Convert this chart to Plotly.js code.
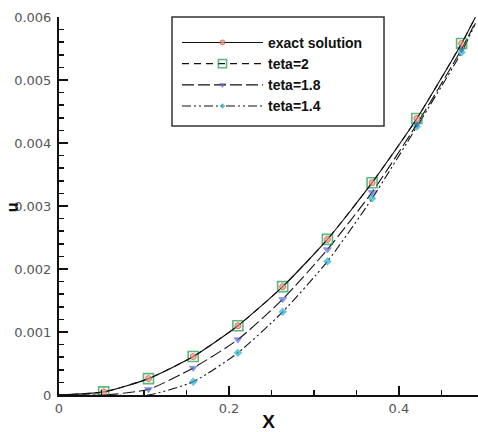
<!DOCTYPE html>
<html>
<head>
<meta charset="utf-8">
<script src="https://cdn.plot.ly/plotly-3.0.1.min.js"></script>
<style>html,body{margin:0;padding:0;background:#fff;}#chart{width:478px;height:432px;}</style>
</head>
<body>
<div id="chart"></div>
<script>
// x positions of the computed nodes (markers at interior nodes)
var xs = [0, 0.0526, 0.1053, 0.1579, 0.2105, 0.2632, 0.3158, 0.3684, 0.4211, 0.4737, 0.49];
var exactU  = [0, 0.00005, 0.00026, 0.00061, 0.00110, 0.00172, 0.00247, 0.00337, 0.00439, 0.00558, 0.00600];
var teta2U  = [0, 0.00005, 0.00026, 0.00061, 0.00110, 0.00172, 0.00247, 0.00337, 0.00439, 0.00558, 0.00600];
var teta18U = [0, 0, 0.00009, 0.00043, 0.00088, 0.00152, 0.00231, 0.00322, 0.00430, 0.00549, 0.00592];
var teta14U = [0, 0, 0, 0.00021, 0.00067, 0.00132, 0.00212, 0.00312, 0.00426, 0.00544, 0.00590];
var seriesNames = ['exact solution', 'teta=2', 'teta=1.8', 'teta=1.4'];
var yTickVals = [0, 0.001, 0.002, 0.003, 0.004, 0.005, 0.006];
var xTickVals = [0, 0.2, 0.4];

function sizes(vals, s) {
  return vals.map(function (v, i) { return (i === 0 || i === vals.length - 1 || v === 0) ? 0 : s; });
}

var traces = [
  {x: xs, y: teta14U, name: seriesNames[3], mode: 'lines+markers',
   line: {color: '#111', width: 1.1, dash: '9px,3px,2px,3px,2px,3px', shape: 'spline', smoothing: 0.6},
   marker: {symbol: 'diamond', size: sizes(teta14U, 6), color: '#22b4cc', line: {color: '#1890b0', width: 0.5}}},
  {x: xs, y: teta18U, name: seriesNames[2], mode: 'lines+markers',
   line: {color: '#111', width: 1.1, dash: '12px,4px', shape: 'spline', smoothing: 0.6},
   marker: {symbol: 'triangle-down', size: sizes(teta18U, 7), color: '#5a6ee0', line: {color: '#3040b0', width: 0.5}}},
  {x: xs, y: teta2U, name: seriesNames[1], mode: 'lines+markers',
   line: {color: '#111', width: 1.1, dash: '7px,5px', shape: 'spline', smoothing: 0.6},
   marker: {symbol: 'square-open', size: sizes(teta2U, 10), color: '#1a9a40', line: {width: 1.6}}},
  {x: xs, y: exactU, name: seriesNames[0], mode: 'lines+markers',
   line: {color: '#111', width: 1.1, shape: 'spline', smoothing: 0.6},
   marker: {symbol: 'circle', size: sizes(exactU, 6), color: '#e0a07a', line: {color: '#c83c3c', width: 1}}}
];

var layout = {
  width: 478, height: 432,
  margin: {l: 59, r: 0, t: 17, b: 37},
  paper_bgcolor: '#fff', plot_bgcolor: '#fff',
  showlegend: true,
  legend: {
    x: 0.2816, y: 0.974, xanchor: 'left', yanchor: 'top',
    traceorder: 'reversed',
    bgcolor: 'rgba(0,0,0,0)', borderwidth: 0,
    itemwidth: 81, tracegroupgap: 0,
    font: {family: 'Liberation Sans, Arial, sans-serif', size: 14, color: '#111', weight: 'bold'}
  },
  xaxis: {
    range: [0, 0.493], tickvals: xTickVals, ticktext: xTickVals.map(String),
    ticks: 'inside', ticklen: 9, tickwidth: 2, tickcolor: '#111',
    showline: true, linecolor: '#111', linewidth: 2, showgrid: false, zeroline: false,
    minor: {dtick: 0.05, tick0: 0, ticks: 'inside', ticklen: 5, tickwidth: 1.5, tickcolor: '#111'},
    tickfont: {family: 'DejaVu Sans, sans-serif', size: 13, color: '#555'},
    title: {text: 'X', font: {family: 'Liberation Sans, Arial, sans-serif', size: 19, color: '#111', weight: 'bold'}, standoff: 2}
  },
  yaxis: {
    range: [0, 0.006], tickvals: yTickVals, ticktext: yTickVals.map(function (v) { return v === 0 ? '0' : v.toFixed(3); }),
    ticks: 'inside', ticklen: 9, tickwidth: 2, tickcolor: '#111',
    showline: true, linecolor: '#111', linewidth: 2, showgrid: false, zeroline: false,
    minor: {dtick: 0.0002, tick0: 0, ticks: 'inside', ticklen: 5, tickwidth: 1.5, tickcolor: '#111'},
    tickfont: {family: 'DejaVu Sans, sans-serif', size: 13, color: '#555'},
    ticklabelstandoff: 3
  },
  shapes: [
    {type: 'rect', xref: 'paper', yref: 'paper', x0: 0.2697, x1: 0.7757, y0: 0.7116, y1: 1.0,
     line: {color: '#333', width: 1.5}, fillcolor: 'rgba(0,0,0,0)', layer: 'above'}
  ],
  annotations: [
    {text: 'u', xref: 'paper', yref: 'paper', x: -0.112, y: 0.497, xanchor: 'center', yanchor: 'middle',
     textangle: -90, showarrow: false,
     font: {family: 'Liberation Sans, Arial, sans-serif', size: 16, color: '#111', weight: 'bold'}}
  ]
};

Plotly.newPlot('chart', traces, layout, {displayModeBar: false, staticPlot: true});
</script>
</body>
</html>
